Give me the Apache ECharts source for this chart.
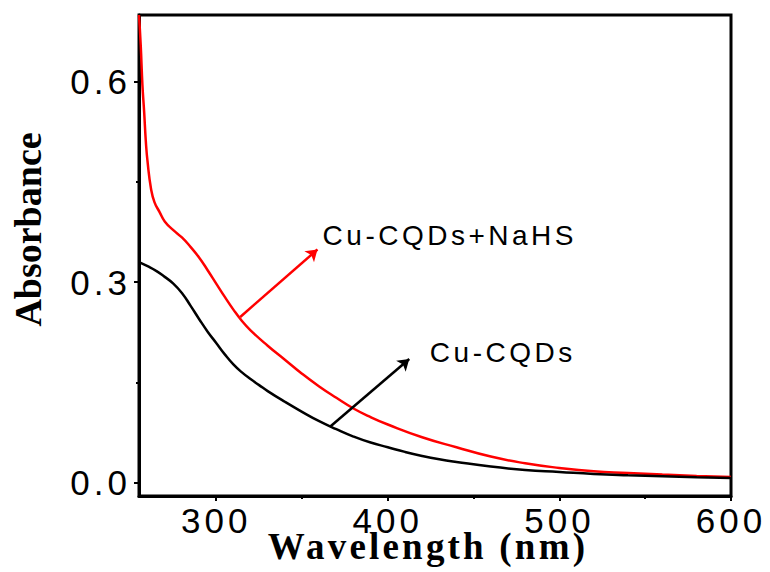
<!DOCTYPE html>
<html>
<head>
<meta charset="utf-8">
<script src="https://cdn.jsdelivr.net/npm/echarts@6/dist/echarts.min.js"></script>
<style>
  html, body { margin: 0; padding: 0; background: #fff; }
  #chart { width: 770px; height: 572px; }
  /* letter spacing for the SVG text, keyed on font size */
  #chart text[style*="35px"] { letter-spacing: 4px; }
  #chart text[style*="28px"] { letter-spacing: 3.5px; }
  #chart text[style*="37px"] { letter-spacing: 3.2px; }
</style>
</head>
<body>
<div id="chart"></div>
<script>
// UV-vis absorption spectra
const redWavelength = [255, 256, 257, 258, 259, 260, 262, 264, 267, 270, 275, 280, 285, 290, 295, 300, 305, 310, 315, 320, 330, 340, 350, 360, 370, 380, 390, 400, 420, 440, 460, 480, 500, 520, 540, 560, 580, 600];
const redAbs = [0.700, 0.655, 0.595, 0.555, 0.510, 0.480, 0.440, 0.420, 0.405, 0.391, 0.378, 0.367, 0.353, 0.337, 0.318, 0.298, 0.278, 0.259, 0.242, 0.228, 0.205, 0.184, 0.163, 0.144, 0.127, 0.111, 0.098, 0.087, 0.068, 0.053, 0.039, 0.029, 0.022, 0.017, 0.0145, 0.012, 0.010, 0.0085];

const blackWavelength = [255, 260, 265, 270, 275, 280, 285, 290, 295, 300, 305, 310, 315, 320, 325, 330, 340, 350, 360, 370, 380, 390, 400, 410, 420, 430, 440, 460, 480, 500, 520, 540, 560, 580, 600];
const blackAbs = [0.330, 0.324, 0.317, 0.308, 0.298, 0.284, 0.265, 0.245, 0.226, 0.209, 0.192, 0.177, 0.165, 0.155, 0.146, 0.137, 0.121, 0.106, 0.092, 0.080, 0.069, 0.060, 0.053, 0.046, 0.040, 0.035, 0.031, 0.024, 0.019, 0.016, 0.013, 0.011, 0.0095, 0.008, 0.007];

const seriesNames = ['Cu-CQDs+NaHS', 'Cu-CQDs'];

// axis ranges and ticks
const xRange = [255, 600];
const yRange = [-0.02, 0.7];
const xMajorTicks = [300, 400, 500, 600];
const xMinorTicks = [350, 450, 550];
const yMajorTicks = [0, 0.3, 0.6];
const yMinorTicks = [0.15, 0.45];

// annotation arrows (data coordinates: [wavelength, absorbance])
const redArrow = [[314, 0.248], [359, 0.349]];
const blackArrow = [[366.5, 0.084], [412.5, 0.185]];
const redLabelAt = [362, 0.370];
const blackLabelAt = [424.5, 0.1955];

const zip = (xs, ys) => xs.map((x, i) => [x, ys[i]]);

const chart = echarts.init(document.getElementById('chart'), null, { renderer: 'svg' });

const labelFont = 'Liberation Sans, Arial, sans-serif';
const titleFont = 'Liberation Serif, Times New Roman, serif';

function arrow(points, color) {
  return {
    silent: true,
    symbol: ['none', 'arrow'],
    symbolSize: 11,
    label: { show: false },
    lineStyle: { color: color, width: 2.5, type: 'solid' },
    emphasis: { disabled: true },
    data: [[{ coord: points[0] }, { coord: points[1] }]]
  };
}

function note(at, text) {
  return {
    silent: true,
    symbol: 'circle',
    symbolSize: 0,
    data: [{
      coord: at,
      label: {
        show: true,
        position: 'right',
        distance: 0,
        formatter: text,
        color: '#000',
        fontFamily: labelFont,
        fontSize: 28
      }
    }]
  };
}

const majorTick = (values) => ({ show: true, inside: false, length: 5, customValues: values, lineStyle: { color: '#000', width: 2 } });
const minorTick = (values) => ({ show: true, inside: false, length: 3, customValues: values, lineStyle: { color: '#000', width: 2 } });

chart.setOption({
  animation: false,
  backgroundColor: '#fff',
  grid: {
    left: 139, top: 15, right: 39, bottom: 76,
    outerBoundsMode: 'none', containLabel: false,
    show: true, borderColor: '#000', borderWidth: 3
  },
  xAxis: [
    {
      type: 'value', min: xRange[0], max: xRange[1], position: 'bottom',
      name: 'Wavelength (nm)', nameLocation: 'middle', nameGap: 32, nameMoveOverlap: false,
      nameTextStyle: { fontFamily: titleFont, fontWeight: 'bold', fontSize: 37, color: '#000', padding: [0, 14, 0, 0] },
      axisLine: { show: true, onZero: false, lineStyle: { color: '#000', width: 3 } },
      axisTick: majorTick(xMajorTicks),
      axisLabel: { show: true, margin: 7, customValues: xMajorTicks, color: '#000', fontFamily: labelFont, fontSize: 35 },
      splitLine: { show: false }
    },
    {
      type: 'value', min: xRange[0], max: xRange[1], position: 'bottom',
      axisLine: { show: false, onZero: false },
      axisTick: minorTick(xMinorTicks),
      axisLabel: { show: false },
      splitLine: { show: false }
    }
  ],
  yAxis: [
    {
      type: 'value', min: yRange[0], max: yRange[1], position: 'left',
      name: 'Absorbance', nameLocation: 'middle', nameGap: 92, nameMoveOverlap: false,
      nameTextStyle: { fontFamily: titleFont, fontWeight: 'bold', fontSize: 38, color: '#000', padding: [0, 0, 0, 52] },
      axisLine: { show: true, onZero: false, lineStyle: { color: '#000', width: 3 } },
      axisTick: majorTick(yMajorTicks),
      axisLabel: { show: true, margin: 8, customValues: yMajorTicks, color: '#000', fontFamily: labelFont, fontSize: 35,
        formatter: v => v.toFixed(1) },
      splitLine: { show: false }
    },
    {
      type: 'value', min: yRange[0], max: yRange[1], position: 'left',
      axisLine: { show: false, onZero: false },
      axisTick: minorTick(yMinorTicks),
      axisLabel: { show: false },
      splitLine: { show: false }
    }
  ],
  series: [
    {
      name: seriesNames[0], type: 'line', xAxisIndex: 0, yAxisIndex: 0,
      data: zip(redWavelength, redAbs),
      showSymbol: false, smooth: 0.5,
      lineStyle: { color: '#ff0000', width: 2.5 },
      emphasis: { disabled: true },
      markLine: arrow(redArrow, '#ff0000'),
      markPoint: note(redLabelAt, seriesNames[0])
    },
    {
      name: seriesNames[1], type: 'line', xAxisIndex: 0, yAxisIndex: 0,
      data: zip(blackWavelength, blackAbs),
      showSymbol: false, smooth: 0.5,
      lineStyle: { color: '#000000', width: 2.5 },
      emphasis: { disabled: true },
      markLine: arrow(blackArrow, '#000000'),
      markPoint: note(blackLabelAt, seriesNames[1])
    }
  ]
});
</script>
</body>
</html>
